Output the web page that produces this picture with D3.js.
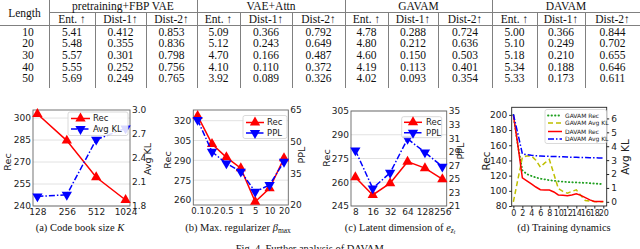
<!DOCTYPE html>
<html>
<head>
<meta charset="utf-8">
<script src="https://cdn.jsdelivr.net/npm/d3@7"></script>
<style>
body { margin: 0; background: #fff; }
svg { display: block; }
.serif { font-family: "Liberation Serif", "Times New Roman", "DejaVu Serif", serif; }
</style>
</head>
<body>
<svg id="fig" width="640" height="249"></svg>
<script>
// ---- table data ----
var lengths = [10, 20, 30, 40, 50];
var models = ["pretraining+FBP VAE", "VAE+Attn", "GAVAM", "DAVAM"];
var metrics = ["Ent. \u2191", "Dist-1\u2191", "Dist-2\u2191"];

var fbpEnt = [5.41, 5.48, 5.57, 5.55, 5.69];
var fbpDist1 = [0.412, 0.355, 0.301, 0.252, 0.249];
var fbpDist2 = [0.853, 0.836, 0.798, 0.756, 0.765];
var attnEnt = [5.09, 5.12, 4.70, 4.10, 3.92];
var attnDist1 = [0.366, 0.243, 0.166, 0.110, 0.089];
var attnDist2 = [0.792, 0.649, 0.487, 0.372, 0.326];
var gavamEnt = [4.78, 4.80, 4.60, 4.19, 4.02];
var gavamDist1 = [0.288, 0.212, 0.150, 0.113, 0.093];
var gavamDist2 = [0.724, 0.636, 0.503, 0.401, 0.354];
var davamEnt = [5.00, 5.10, 5.18, 5.34, 5.33];
var davamDist1 = [0.366, 0.249, 0.210, 0.188, 0.173];
var davamDist2 = [0.844, 0.702, 0.655, 0.646, 0.611];

// ---- panel (a) code book size ----
var codeBook = ["128", "256", "512", "1024"];
var codeBookRec = [302.8, 284.6, 259.6, 244.1];
var codeBookKL = [1.92, 1.94, 2.63, 2.77];

// ---- panel (b) beta max ----
var betaMax = ["0.1", "0.2", "0.5", "1", "5", "10", "20"];
var betaRec = [323.6, 302.4, 292.3, 284.0, 258.7, 268.9, 291.6];
var betaPPL = [60.3, 45.2, 39.7, 35.8, 26.3, 29.5, 40.5];

// ---- panel (c) latent dimension ----
var latentDim = ["8", "16", "32", "64", "128", "256"];
var latentRec = [263.2, 252.0, 259.4, 273.0, 268.9, 261.9];
var latentPPL = [29.2, 23.6, 25.9, 30.9, 28.9, 26.8];

// ---- panel (d) training dynamics ----
var epochs = [0, 1, 2, 3, 4, 5, 6, 7, 8, 9, 10, 11, 12, 13, 14, 15, 16, 17, 18, 19, 20];
var gavamRec = [200, 160, 127, 122, 119.6, 117.5, 116, 115, 114, 113.2, 112.6, 112.1, 111.7, 111.3, 111, 110.7, 110.5, 110, 109.6, 109.2, 108.7];
var gavamKL = [0.0, 1.6, 3.2, 3.3, 3.3, 3.0, 2.5, 2.8, 3.05, 2.0, 0.95, 0.75, 0.62, 0.75, 0.86, 0.45, 0.1, 0.05, 0.02, 0.0, 0.0];
var davamRec = [200, 160, 117, 113, 109, 105, 101.5, 101, 101, 98.5, 94.5, 94, 93.5, 94.5, 96, 94, 91, 88, 86, 86, 86];
var davamKL = [6.3, 4.9, 3.45, 3.4, 3.35, 3.32, 3.3, 3.28, 3.27, 3.26, 3.25, 3.24, 3.22, 3.21, 3.2, 3.19, 3.18, 3.17, 3.17, 3.16, 3.15];

var SANS = "DejaVu Sans, sans-serif";
var RED = "#ff0000";
var BLUE = "#0000ff";

var svg = d3.select("#fig");

// ================= table =================
function drawTable() {
	var colEdges = [0, 49, 95, 146, 197, 240, 292, 345, 388, 438, 492, 537, 585, 640];
	var groups = [
		[fbpEnt, fbpDist1, fbpDist2],
		[attnEnt, attnDist1, attnDist2],
		[gavamEnt, gavamDist1, gavamDist2],
		[davamEnt, davamDist1, davamDist2]
	];
	var rowY = d3.scalePoint().domain(lengths).range([31.7, 78.3]);
	var f2 = d3.format(".2f");
	var f3 = d3.format(".3f");

	var tbl = svg.append("g")
		.attr("class", "serif")
		.style("font-size", "11.5px")
		.attr("fill", "#111");

	var lineColor = "#808080";
	tbl.append("line").attr("x1", 49).attr("x2", 640).attr("y1", 12.5).attr("y2", 12.5)
		.attr("stroke", lineColor).attr("stroke-width", 1);
	tbl.append("line").attr("x1", 0).attr("x2", 640).attr("y1", 25.5).attr("y2", 25.5)
		.attr("stroke", lineColor).attr("stroke-width", 1);

	for (var i = 1; i < colEdges.length - 1; i++) {
		var sep = (i - 1) % 3 === 0;
		tbl.append("line")
			.attr("x1", colEdges[i] + 0.5).attr("x2", colEdges[i] + 0.5)
			.attr("y1", sep ? 0 : 12.5).attr("y2", 88)
			.attr("stroke", lineColor).attr("stroke-width", 1);
	}

	tbl.append("text").attr("x", 24.5).attr("y", 12.5).attr("dy", "0.35em")
		.attr("text-anchor", "middle").text("Length");

	models.forEach(function (m, gi) {
		tbl.append("text")
			.attr("x", (colEdges[1 + gi * 3] + colEdges[4 + gi * 3]) / 2)
			.attr("y", 6).attr("dy", "0.35em")
			.attr("text-anchor", "middle").text(m);
		metrics.forEach(function (mt, mi) {
			var k = 1 + gi * 3 + mi;
			var cx = (colEdges[k] + colEdges[k + 1]) / 2;
			tbl.append("text").attr("x", cx).attr("y", 18.7).attr("dy", "0.35em")
				.attr("text-anchor", "middle").text(mt);
			tbl.selectAll(null).data(groups[gi][mi]).enter().append("text")
				.attr("x", cx)
				.attr("y", function (d, r) { return rowY(lengths[r]); })
				.attr("dy", "0.35em")
				.attr("text-anchor", "middle")
				.text(function (d) { return mi === 0 ? f2(d) : f3(d); });
		});
	});

	tbl.selectAll(null).data(lengths).enter().append("text")
		.attr("x", 28).attr("y", function (d) { return rowY(d); }).attr("dy", "0.35em")
		.attr("text-anchor", "middle").text(function (d) { return d; });
}

// ================= charts =================
function styleAxis(sel, size) {
	sel.select(".domain").remove();
	sel.selectAll("text").attr("font-family", SANS).attr("font-size", size).attr("fill", "#222");
	sel.selectAll(".tick line").attr("stroke", "#222");
}

function marker(g, xs, ys, color, rot) {
	g.selectAll(null).data(xs).enter().append("path")
		.attr("d", d3.symbol().type(d3.symbolTriangle).size(46))
		.attr("transform", function (d, i) {
			return "translate(" + xs[i] + "," + ys[i] + ")" + (rot ? " rotate(180)" : "");
		})
		.attr("fill", color);
}

function legend(g, box, items) {
	g.append("rect")
		.attr("x", box.x).attr("y", box.y).attr("width", box.w).attr("height", box.h)
		.attr("rx", 2).attr("fill", "#fff").attr("fill-opacity", 0.85)
		.attr("stroke", "#d0d0d0").attr("stroke-width", 0.8);
	items.forEach(function (it, i) {
		var yy = box.rows[i];
		g.append("line")
			.attr("x1", box.hx0).attr("x2", box.hx1).attr("y1", yy).attr("y2", yy)
			.attr("stroke", it.color).attr("stroke-width", it.width || 1.5)
			.attr("stroke-dasharray", it.dash || null)
			.attr("stroke-linecap", it.cap || "butt");
		if (it.marker) {
			marker(g, [(box.hx0 + box.hx1) / 2], [yy], it.color, it.marker === "down");
		}
		g.append("text").attr("x", box.tx).attr("y", yy).attr("dy", "0.35em")
			.attr("font-family", SANS).attr("font-size", box.fs).attr("fill", "#222")
			.text(it.label);
	});
}

function dualPanel(cfg) {
	var g = svg.append("g");
	var x = d3.scalePoint().domain(cfg.cats).range([cfg.left, cfg.right]).padding(cfg.pad);
	var yL = d3.scaleLinear().domain(cfg.leftDomain).range([cfg.bottom, cfg.top]);
	var yR = d3.scaleLinear().domain(cfg.rightDomain).range([cfg.bottom, cfg.top]);

	g.selectAll(null).data(cfg.leftTicks).enter().append("line")
		.attr("x1", cfg.left).attr("x2", cfg.right)
		.attr("y1", function (d) { return yL(d); }).attr("y2", function (d) { return yL(d); })
		.attr("stroke", "#e2e2e2").attr("stroke-width", 1);

	g.append("rect").attr("x", cfg.left).attr("y", cfg.top)
		.attr("width", cfg.right - cfg.left).attr("height", cfg.bottom - cfg.top)
		.attr("fill", "none").attr("stroke", "#666").attr("stroke-width", 0.9);

	g.append("g").attr("transform", "translate(" + cfg.left + ",0)")
		.call(d3.axisLeft(yL).tickValues(cfg.leftTicks).tickSize(0).tickPadding(2))
		.call(styleAxis, 9);
	g.append("g").attr("transform", "translate(" + cfg.right + ",0)")
		.call(d3.axisRight(yR).tickValues(cfg.rightTicks).tickSize(0).tickPadding(2)
			.tickFormat(cfg.rightFmt ? d3.format(cfg.rightFmt) : null))
		.call(styleAxis, 9);
	g.append("g").attr("transform", "translate(0," + cfg.bottom + ")")
		.call(d3.axisBottom(x).tickSize(0).tickPadding(3))
		.call(styleAxis, cfg.xfs || 9);

	g.append("text").attr("transform", "translate(" + cfg.lLabelX + "," + cfg.lLabelY + ") rotate(-90)")
		.attr("text-anchor", "middle").attr("font-family", SANS).attr("font-size", 9.5)
		.attr("fill", "#222").text("Rec");
	g.append("text").attr("transform", "translate(" + cfg.rLabelX + "," + cfg.rLabelY + ") rotate(-90)")
		.attr("text-anchor", "middle").attr("font-family", SANS).attr("font-size", 9.5)
		.attr("fill", "#222").text(cfg.rightLabel);

	var xs = cfg.cats.map(function (c) { return x(c); });
	var recY = cfg.rec.map(function (v) { return yL(v); });
	var secY = cfg.sec.map(function (v) { return yR(v); });

	g.append("path").datum(cfg.rec)
		.attr("d", d3.line().x(function (d, i) { return xs[i]; }).y(function (d) { return yL(d); }))
		.attr("fill", "none").attr("stroke", RED).attr("stroke-width", 1.5);
	marker(g, xs, recY, RED, false);

	g.append("path").datum(cfg.sec)
		.attr("d", d3.line().x(function (d, i) { return xs[i]; }).y(function (d) { return yR(d); }))
		.attr("fill", "none").attr("stroke", BLUE).attr("stroke-width", 1.5)
		.attr("stroke-dasharray", "6,2,1.5,2");
	marker(g, xs, secY, BLUE, true);

	legend(g, cfg.legend, [
		{ label: "Rec", color: RED, marker: "up" },
		{ label: cfg.rightLabel, color: BLUE, marker: "down", dash: "6,2,1.5,2" }
	]);
}

function trainingPanel() {
	var left = 511.7, right = 606.7, top = 107.3, bottom = 206;
	var g = svg.append("g");
	var x = d3.scaleLinear().domain([-0.37, 20.75]).range([left, right]);
	var yL = d3.scaleLinear().domain([80, 210]).range([bottom, top]);
	var yR = d3.scaleLinear().domain([-0.3, 6.8]).range([bottom, top]);

	g.append("rect").attr("x", left).attr("y", top)
		.attr("width", right - left).attr("height", bottom - top)
		.attr("fill", "none").attr("stroke", "#222").attr("stroke-width", 0.9);

	g.append("g").attr("transform", "translate(" + left + ",0)")
		.call(d3.axisLeft(yL).tickValues([80, 100, 120, 140, 160, 180, 200]).tickSize(2.5).tickPadding(2))
		.call(styleAxis, 9);
	g.append("g").attr("transform", "translate(" + right + ",0)")
		.call(d3.axisRight(yR).tickValues([0, 1, 2, 3, 4, 5, 6]).tickSize(2.5).tickPadding(2))
		.call(styleAxis, 9);
	g.append("g").attr("transform", "translate(0," + bottom + ")")
		.call(d3.axisBottom(x).tickValues([0, 2, 4, 6, 8, 10, 12, 14, 16, 18, 20]).tickSize(2.5).tickPadding(1.5))
		.call(styleAxis, 8);

	g.append("text").attr("transform", "translate(490,161) rotate(-90)")
		.attr("text-anchor", "middle").attr("font-family", SANS).attr("font-size", 10.5)
		.attr("fill", "#222").text("Rec");
	g.append("text").attr("transform", "translate(629,157) rotate(-90)")
		.attr("text-anchor", "middle").attr("font-family", SANS).attr("font-size", 10.5)
		.attr("fill", "#222").text("Avg KL");

	var series = [
		{ data: gavamRec, y: yL, color: "#22a022", dash: "0.5,3", cap: "round", width: 1.8, label: "GAVAM Rec" },
		{ data: gavamKL, y: yR, color: "#bfbf00", dash: "5,3", label: "GAVAM Avg KL" },
		{ data: davamRec, y: yL, color: RED, dash: null, label: "DAVAM Rec" },
		{ data: davamKL, y: yR, color: BLUE, dash: "6,2,1.5,2", label: "DAVAM Avg KL" }
	];
	series.forEach(function (s) {
		g.append("path").datum(s.data)
			.attr("d", d3.line().x(function (d, i) { return x(epochs[i]); }).y(function (d) { return s.y(d); }))
			.attr("fill", "none").attr("stroke", s.color).attr("stroke-width", s.width || 1.5)
			.attr("stroke-dasharray", s.dash).attr("stroke-linecap", s.cap || "butt");
	});

	legend(g, { x: 545, y: 109.5, w: 61.5, h: 34, rows: [115.5, 123, 131.5, 139], hx0: 548, hx1: 562, tx: 565, fs: 6 },
		series);
}

function captions() {
	var cap = svg.append("g").attr("class", "serif").style("font-size", "10.5px").attr("fill", "#111")
		.attr("text-anchor", "middle");
	var a = cap.append("text").attr("x", 80).attr("y", 230.5);
	a.append("tspan").text("(a) Code book size ");
	a.append("tspan").style("font-style", "italic").text("K");

	var b = cap.append("text").attr("x", 238).attr("y", 230.5);
	b.append("tspan").text("(b) Max. regularizer ");
	b.append("tspan").style("font-style", "italic").text("\u03b2");
	b.append("tspan").style("font-size", "7.5px").attr("dy", 2.5).text("max");

	var c = cap.append("text").attr("x", 400).attr("y", 230.5);
	c.append("tspan").text("(c) Latent dimension of ");
	c.append("tspan").style("font-style", "italic").text("e");
	c.append("tspan").style("font-style", "italic").style("font-size", "7.5px").attr("dy", 2).text("z");
	c.append("tspan").style("font-style", "italic").style("font-size", "5.5px").attr("dy", 1.5).text("t");

	cap.append("text").attr("x", 564).attr("y", 230.5).text("(d) Training dynamics");

	cap.append("text").attr("x", 311).attr("y", 252)
		.text("Fig. 4.  Further analysis of DAVAM.");
}

drawTable();

dualPanel({
	cats: codeBook, rec: codeBookRec, sec: codeBookKL, pad: 0.15,
	left: 33, right: 130, top: 110, bottom: 206,
	leftDomain: [240, 305.5], rightDomain: [1.8, 3.0],
	leftTicks: [240, 255, 270, 285, 300], rightTicks: [1.8, 2.1, 2.4, 2.7, 3.0], rightFmt: ".1f",
	rightLabel: "Avg KL", lLabelX: 11, lLabelY: 162, rLabelX: 151, rLabelY: 159,
	legend: { x: 68, y: 112, w: 60, h: 23.5, rows: [118.5, 129], hx0: 71, hx1: 90, tx: 93, fs: 8.5 }
});

dualPanel({
	cats: betaMax, rec: betaRec, sec: betaPPL, pad: 0.3, xfs: 8.5,
	left: 193.3, right: 288.3, top: 110, bottom: 205,
	leftDomain: [256.2, 328.1], rightDomain: [20, 65],
	leftTicks: [260, 275, 290, 305, 320], rightTicks: [20, 35, 50, 65],
	rightLabel: "PPL", lLabelX: 171, lLabelY: 160, rLabelX: 305, rLabelY: 155,
	legend: { x: 243, y: 115.5, w: 44, h: 23, rows: [122.5, 133], hx0: 246, hx1: 264, tx: 267, fs: 8.5 }
});

dualPanel({
	cats: latentDim, rec: latentRec, sec: latentPPL, pad: 0.25,
	left: 351, right: 446.7, top: 111, bottom: 206,
	leftDomain: [245, 305], rightDomain: [21, 35],
	leftTicks: [245, 260, 275, 290, 305], rightTicks: [21, 23, 25, 27, 29, 31, 33, 35],
	rightLabel: "PPL", lLabelX: 330, lLabelY: 158, rLabelX: 464, rLabelY: 151,
	legend: { x: 401.7, y: 116.7, w: 40, h: 21, rows: [122.3, 132.7], hx0: 404, hx1: 422, tx: 426, fs: 8.5 }
});

trainingPanel();
captions();
</script>
</body>
</html>
